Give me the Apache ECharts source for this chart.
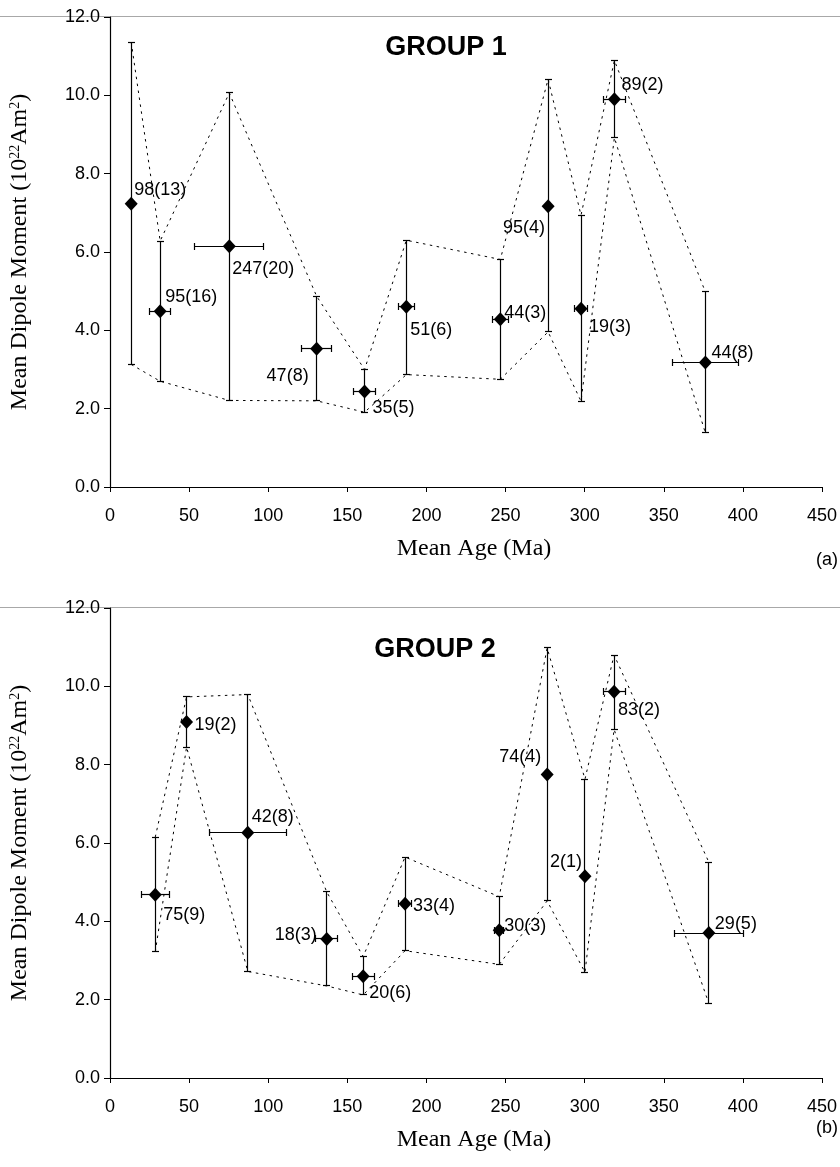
<!DOCTYPE html>
<html>
<head>
<meta charset="utf-8">
<script src="https://cdn.jsdelivr.net/npm/echarts@6/dist/echarts.min.js"></script>
<style>
  html, body { margin: 0; padding: 0; background: #fff; }
  #chart { width: 840px; height: 1167px; }
</style>
</head>
<body>
<div id="chart"></div>
<script>
// ---- Group 1: mean age (Ma), age half-range, mean dipole moment and its range ----
const ageA     = [13.4, 31.7, 75.4, 130.6, 160.9, 187.3, 246.7, 276.9, 297.7, 318.8, 376.3];
const ageErrA  = [0, 6.5, 21.8, 9.6, 7, 5, 5, 0, 4.4, 7, 21];
const momentA  = [7.23, 4.49, 6.15, 3.53, 2.44, 4.60, 4.28, 7.17, 4.55, 9.90, 3.18];
const upperA   = [11.36, 6.28, 10.06, 4.87, 3.00, 6.30, 5.81, 10.41, 6.94, 10.89, 4.98];
const lowerA   = [3.13, 2.70, 2.21, 2.20, 1.91, 2.87, 2.75, 3.96, 2.19, 8.92, 1.38];
const countA   = ['98(13)', '95(16)', '247(20)', '47(8)', '35(5)', '51(6)', '44(3)', '95(4)', '19(3)', '89(2)', '44(8)'];

// ---- Group 2 ----
const ageB     = [28.6, 48.4, 87.1, 137.0, 160.0, 186.5, 246.0, 276.3, 300.2, 318.6, 378.5];
const ageErrB  = [9, 0, 24.3, 7, 7, 4, 3, 0, 0, 7, 22];
const momentB  = [4.68, 9.09, 6.26, 3.55, 2.60, 4.45, 3.77, 7.75, 5.15, 9.86, 3.70];
const upperB   = [6.15, 9.73, 9.79, 4.75, 3.10, 5.64, 4.63, 10.98, 7.63, 10.80, 5.51];
const lowerB   = [3.22, 8.45, 2.72, 2.35, 2.12, 3.25, 2.90, 4.52, 2.70, 8.90, 1.90];
const countB   = ['75(9)', '19(2)', '42(8)', '18(3)', '20(6)', '33(4)', '30(3)', '74(4)', '2(1)', '83(2)', '29(5)'];

// ---- axis ranges ----
const ageMin = 0, ageMax = 450, ageStep = 50;
const momMin = 0, momMax = 12, momStep = 2;

// label placement next to each diamond: [dx, dy, align]
const placeA = [[3,-14,'left'],[5,-14,'left'],[3,23,'left'],[-8,27,'right'],[8,17,'left'],[4,23,'left'],
                [4,-6,'left'],[-3,22,'right'],[8,18,'left'],[7,-14,'left'],[6,-9,'left']];
const placeB = [[8,20,'left'],[8,3,'left'],[4,-16,'left'],[-10,-4,'right'],[6,17,'left'],[8,2,'left'],
                [5,-4,'left'],[-6,-17,'right'],[-3,-14,'right'],[4,18,'left'],[6,-9,'left']];

const SANS = '"Liberation Sans", Arial, Helvetica, sans-serif';
const SERIF = '"Liberation Serif", "Times New Roman", serif';

const chart = echarts.init(document.getElementById('chart'), null, { renderer: 'canvas' });

function snap(v) { return Math.round(v - 0.5) + 0.5; }

function errorBarItem(params, api) {
  const x = api.value(0), y = api.value(1), lo = api.value(2), hi = api.value(3), dx = api.value(4);
  const c = api.coord([x, y]);
  const top = api.coord([x, hi]);
  const bot = api.coord([x, lo]);
  const st = { stroke: '#000', lineWidth: 1.2 };
  const cx = snap(c[0]), cy = snap(c[1]);
  const cap = 3.5;
  const kids = [
    { type: 'line', shape: { x1: cx, y1: top[1], x2: cx, y2: bot[1] }, style: st },
    { type: 'line', shape: { x1: cx - cap, y1: snap(top[1]), x2: cx + cap, y2: snap(top[1]) }, style: st },
    { type: 'line', shape: { x1: cx - cap, y1: snap(bot[1]), x2: cx + cap, y2: snap(bot[1]) }, style: st }
  ];
  if (dx > 0) {
    const l = api.coord([x - dx, y]);
    const r = api.coord([x + dx, y]);
    kids.push({ type: 'line', shape: { x1: l[0], y1: cy, x2: r[0], y2: cy }, style: st });
    kids.push({ type: 'line', shape: { x1: snap(l[0]), y1: cy - cap, x2: snap(l[0]), y2: cy + cap }, style: st });
    kids.push({ type: 'line', shape: { x1: snap(r[0]), y1: cy - cap, x2: snap(r[0]), y2: cy + cap }, style: st });
  }
  return { type: 'group', children: kids };
}

function labelRenderer(counts, place) {
  return function (params, api) {
    const c = api.coord([api.value(0), api.value(1)]);
    const p = place[params.dataIndex];
    return {
      type: 'text',
      x: c[0] + p[0],
      y: c[1] + p[1],
      style: {
        text: counts[params.dataIndex],
        fill: '#000',
        font: '18px ' + SANS,
        align: p[2],
        verticalAlign: 'middle'
      }
    };
  };
}

function panelSeries(idx, age, ageErr, moment, upper, lower, counts, place) {
  const dash = { color: '#000', width: 1, type: [2.5, 4.5] };
  return [
    {
      type: 'line', xAxisIndex: idx, yAxisIndex: idx, symbol: 'none', silent: true,
      lineStyle: dash, data: age.map((a, i) => [a, upper[i]]), z: 2
    },
    {
      type: 'line', xAxisIndex: idx, yAxisIndex: idx, symbol: 'none', silent: true,
      lineStyle: dash, data: age.map((a, i) => [a, lower[i]]), z: 2
    },
    {
      type: 'custom', xAxisIndex: idx, yAxisIndex: idx, renderItem: errorBarItem, z: 3,
      data: age.map((a, i) => [a, moment[i], lower[i], upper[i], ageErr[i]])
    },
    {
      type: 'scatter', xAxisIndex: idx, yAxisIndex: idx, symbol: 'diamond', symbolSize: [13, 14],
      itemStyle: { color: '#000', opacity: 1 }, z: 4,
      data: age.map((a, i) => [a, moment[i]])
    },
    {
      type: 'custom', xAxisIndex: idx, yAxisIndex: idx, renderItem: labelRenderer(counts, place), z: 5,
      data: age.map((a, i) => [a, moment[i]])
    }
  ];
}

function xAxisFor(idx) {
  return {
    type: 'value', gridIndex: idx, min: ageMin, max: ageMax, interval: ageStep,
    axisLine: { show: true, onZero: false, lineStyle: { color: '#000', width: 1.2 } },
    axisTick: { show: true, inside: false, length: 5, lineStyle: { color: '#000' } },
    axisLabel: { color: '#000', fontFamily: SANS, fontSize: 18, margin: 20 },
    splitLine: { show: false }
  };
}

function yAxisFor(idx) {
  return {
    type: 'value', gridIndex: idx, min: momMin, max: momMax, interval: momStep,
    axisLine: { show: true, lineStyle: { color: '#000', width: 1.2 } },
    axisTick: { show: true, inside: false, length: 6, lineStyle: { color: '#000' } },
    axisLabel: { color: '#000', fontFamily: SANS, fontSize: 18, margin: 10, formatter: v => v.toFixed(1) },
    splitLine: { show: false },
    name: 'Mean Dipole Moment (10{sup|22}Am{sup|2})',
    nameLocation: 'middle',
    nameRotate: 90,
    nameGap: 78,
    nameTextStyle: {
      color: '#000', fontFamily: SERIF, fontSize: 24,
      rich: { sup: { fontFamily: SERIF, fontSize: 14, color: '#000', verticalAlign: 'top', padding: [0, 0, 10, 0] } }
    }
  };
}

const gridTop = [17, 608];
const gridH = 470;

const option = {
  backgroundColor: '#fff',
  animation: false,
  grid: [
    { left: 104, top: gridTop[0], width: 720, height: gridH },
    { left: 104, top: gridTop[1], width: 720, height: gridH }
  ],
  xAxis: [xAxisFor(0), xAxisFor(1)],
  yAxis: [yAxisFor(0), yAxisFor(1)],
  graphic: [
    { type: 'line', shape: { x1: 0, y1: gridTop[0] - 0.5, x2: 840, y2: gridTop[0] - 0.5 }, style: { stroke: '#a8a8a8', lineWidth: 1 } },
    { type: 'line', shape: { x1: 0, y1: gridTop[1] - 0.5, x2: 840, y2: gridTop[1] - 0.5 }, style: { stroke: '#a8a8a8', lineWidth: 1 } },
    { type: 'text', x: 446, y: 48, style: { text: 'GROUP 1', font: 'bold 27px ' + SANS, fill: '#000', align: 'center', verticalAlign: 'middle' } },
    { type: 'text', x: 435, y: 650, style: { text: 'GROUP 2', font: 'bold 27px ' + SANS, fill: '#000', align: 'center', verticalAlign: 'middle' } },
    { type: 'text', x: 474, y: 549, style: { text: 'Mean Age (Ma)', font: '24px ' + SERIF, fill: '#000', align: 'center', verticalAlign: 'middle' } },
    { type: 'text', x: 474, y: 1140, style: { text: 'Mean Age (Ma)', font: '24px ' + SERIF, fill: '#000', align: 'center', verticalAlign: 'middle' } },
    { type: 'text', x: 838, y: 560, style: { text: '(a)', font: '18px ' + SANS, fill: '#000', align: 'right', verticalAlign: 'middle' } },
    { type: 'text', x: 838, y: 1128, style: { text: '(b)', font: '18px ' + SANS, fill: '#000', align: 'right', verticalAlign: 'middle' } }
  ],
  series: [
    ...panelSeries(0, ageA, ageErrA, momentA, upperA, lowerA, countA, placeA),
    ...panelSeries(1, ageB, ageErrB, momentB, upperB, lowerB, countB, placeB)
  ]
};

chart.setOption(option);
</script>
</body>
</html>
